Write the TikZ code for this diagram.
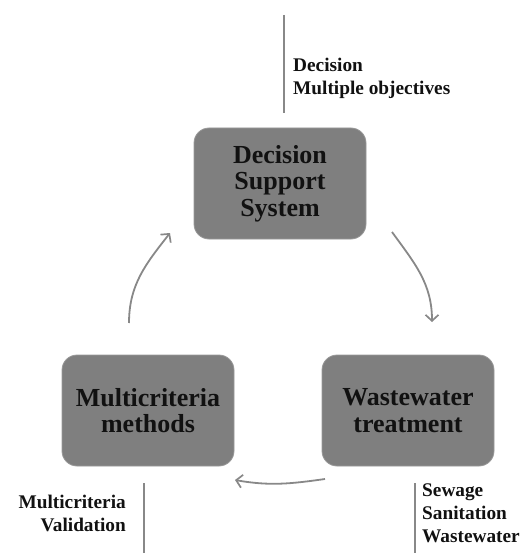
\documentclass[tikz,border=0pt]{standalone}
\usepackage{fontspec}
\setmainfont{Liberation Serif}
\usetikzlibrary{arrows.meta}
\definecolor{boxfill}{HTML}{7F7F7F}
\definecolor{boxedge}{HTML}{9A9A9A}
\definecolor{linkgray}{HTML}{888888}
\definecolor{inkdark}{HTML}{111111}
\begin{document}
\begin{tikzpicture}[x=1pt,y=1pt,
  stagebox/.style={draw=boxedge, line width=0.8pt, fill=boxfill, rounded corners=15pt,
    minimum width=172pt, minimum height=111pt, inner sep=0pt, align=center,
    text=inkdark, font=\bfseries\fontsize{26}{26.5}\selectfont},
  keywords/.style={inner sep=0pt, text=inkdark, font=\bfseries\fontsize{19.3}{22.8}\selectfont},
  cycle/.style={draw=linkgray, line width=1.8pt,
    -{Straight Barb[length=6pt,width=13pt,line width=1.7pt]}},
  rule/.style={draw=linkgray, line width=1.6pt}]
  \useasboundingbox (0,0) rectangle (526,-553);

  % the three stages of the cycle
  \node[stagebox] (dss) at (280,-183.5) {Decision\\Support\\System};
  \node[stagebox] (mcm) at (148,-410.5) {Multicriteria\\methods};
  \node[stagebox] (wwt) at (408,-410.5) {Wastewater\\treatment};

  % arrows between the stages
  \coordinate (a1s) at (129,-323);
  \coordinate (a1e) at (170,-233);
  \coordinate (a2s) at (392,-232);
  \coordinate (a2e) at (432,-322);
  \coordinate (a3s) at (325,-479);
  \coordinate (a3e) at (235,-480);
  \draw[cycle] (a1s) to[out=90,in=232] (a1e);
  \draw[cycle] (a2s) to[out=-54,in=90] (a2e);
  \draw[cycle] (a3s) to[out=188,in=-10] (a3e);

  % keyword rules and lists
  \coordinate (r1t) at (284,-15);
  \coordinate (r1b) at (284,-113);
  \draw[rule] (r1t) -- (r1b);
  \node[keywords, anchor=north west, align=left] (kdss) at (293,-58)
    {Decision\\Multiple objectives};

  \coordinate (r2t) at (144,-483);
  \coordinate (r2b) at (144,-553);
  \draw[rule] (r2t) -- (r2b);
  \node[keywords, anchor=north east, align=right] (kmcm) at (126,-495)
    {Multicriteria\hspace{5pt}\\Validation};

  \coordinate (r3t) at (415,-483);
  \coordinate (r3b) at (415,-553);
  \draw[rule] (r3t) -- (r3b);
  \node[keywords, anchor=north west, align=left] (kwwt) at (422,-484)
    {Sewage\\Sanitation\\Wastewater};
\end{tikzpicture}
\end{document}
